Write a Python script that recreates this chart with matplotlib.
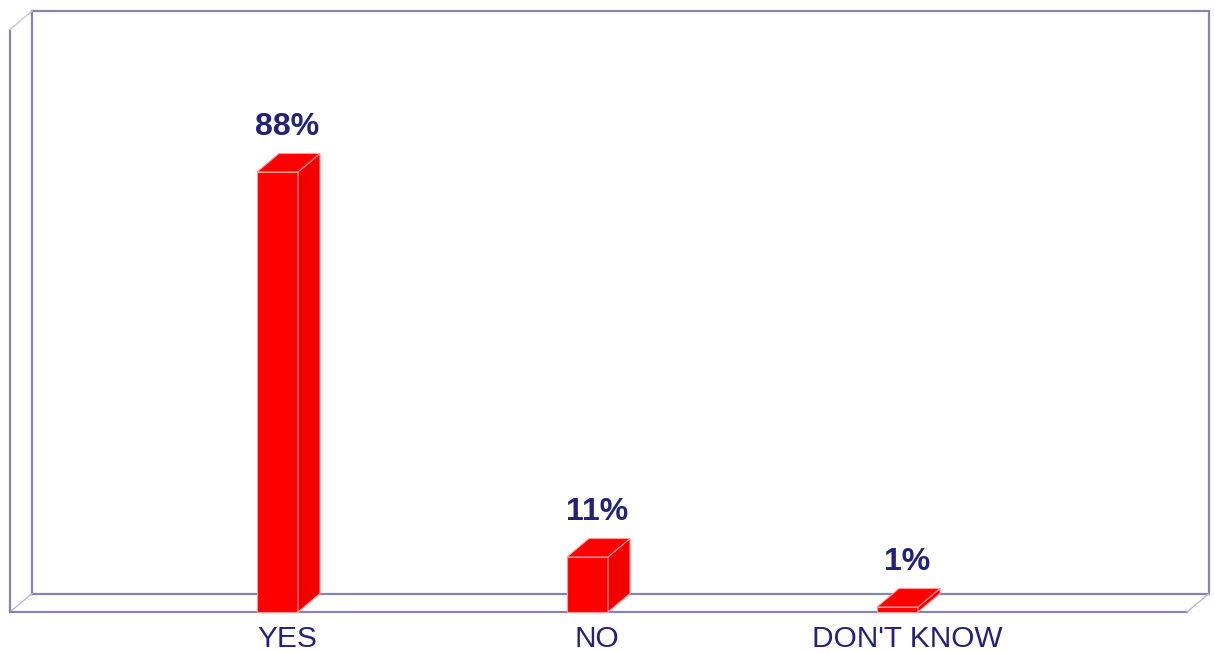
import matplotlib
matplotlib.use("Agg")
import matplotlib.pyplot as plt
from matplotlib.patches import Polygon

categories = ["YES", "NO", "DON'T KNOW"]
values = [88, 11, 1]
value_labels = ["88%", "11%", "1%"]

plt.rcParams['font.family'] = ['Liberation Sans', 'DejaVu Sans']

fig = plt.figure(figsize=(12.15, 6.53), dpi=100)
ax = fig.add_axes([0, 0, 1, 1])
ax.set_xlim(-0.8952, 3.0242)
ax.set_ylim(-8.2, 122.4)
ax.axis('off')

DX, DY = 0.071, 3.7          # 3D depth offset
W = 0.1323                   # bar width
frame_c = '#8585ad'
text_c = '#22227c'

# frame
xl_f, xl_b = -0.863, -0.863 + DX
xr_b = 3.005
xr_f = xr_b - DX
ytop_f = 116.5
ytop_b = ytop_f + DY
lw = 1.6
# back wall
ax.plot([xl_b, xl_b, xr_b, xr_b], [DY, ytop_b, ytop_b, DY], color=frame_c, lw=lw, solid_joinstyle='miter')
ax.plot([xl_b, xr_b], [DY, DY], color=frame_c, lw=lw)
# left side wall
ax.plot([xl_f, xl_f], [0, ytop_f], color=frame_c, lw=lw)
ax.plot([xl_f, xl_b], [ytop_f, ytop_b], color='#c8c8dc', lw=1.0)
ax.plot([xl_f, xl_b], [0, DY], color='#b8b8d0', lw=1.0)
# floor front
ax.plot([xl_f, xr_f], [0, 0], color=frame_c, lw=lw)
ax.plot([xr_f, xr_b], [0, DY], color='#b8b8d0', lw=1.0)

# bars
red = '#ff0000'
edge = '#ff9a9a'
for i, (v, lab) in enumerate(zip(values, value_labels)):
    x0, x1 = i - W / 2, i + W / 2
    front = Polygon([(x0, 0), (x1, 0), (x1, v), (x0, v)], closed=True,
                    facecolor=red, edgecolor=edge, lw=0.8, zorder=5)
    side = Polygon([(x1, 0), (x1 + DX, DY), (x1 + DX, v + DY), (x1, v)], closed=True,
                   facecolor='#f20000', edgecolor=edge, lw=0.8, zorder=5)
    top = Polygon([(x0, v), (x1, v), (x1 + DX, v + DY), (x0 + DX, v + DY)], closed=True,
                  facecolor=red, edgecolor=edge, lw=0.8, zorder=5)
    for p in (front, side, top):
        ax.add_patch(p)
    ax.text(i + 0.032, v + DY + 2.3, lab, ha='center', va='bottom',
            fontsize=23, fontweight='bold', color=text_c)
    ax.text(i + 0.031, -2.6, categories[i], ha='center', va='top',
            fontsize=21.5, color=text_c)

fig.savefig('out.png', dpi=100, facecolor='white')
